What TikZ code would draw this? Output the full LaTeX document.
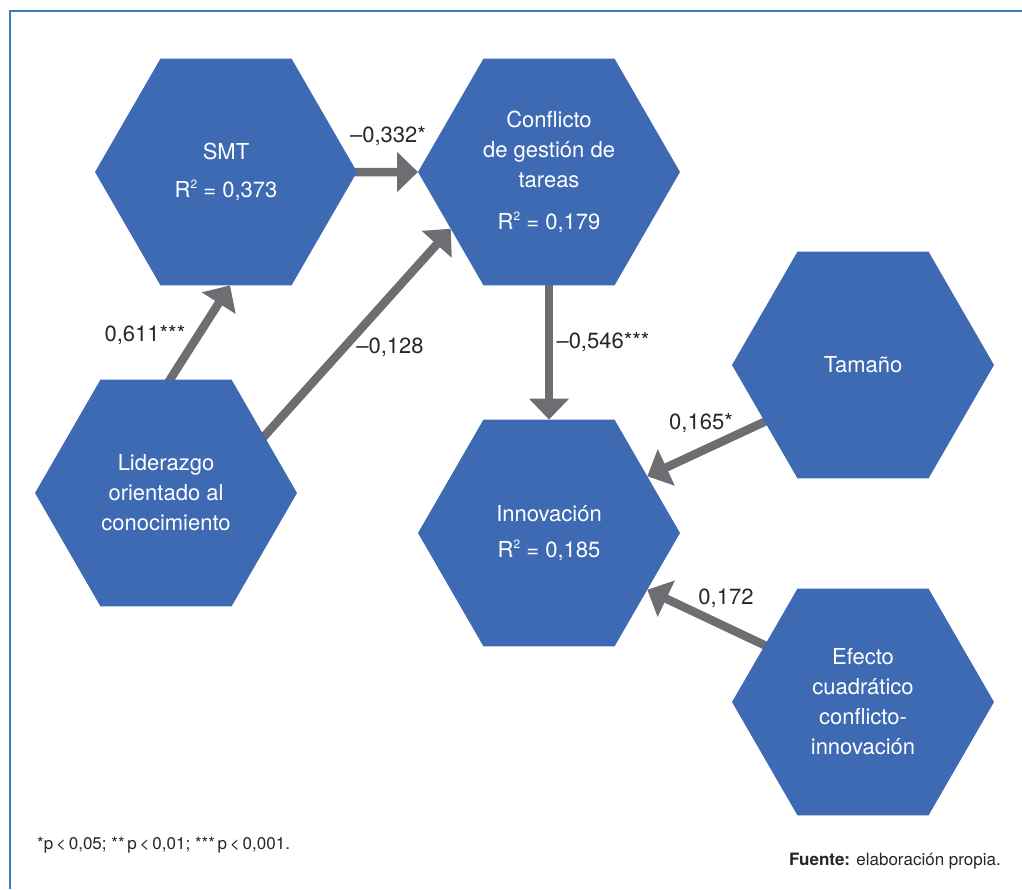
\documentclass[tikz,border=0pt]{standalone}
\usepackage{fontspec}
\setmainfont{TeX Gyre Heros}
\usepackage{xcolor}
\usepackage{tikz}
\usetikzlibrary{shapes.geometric,arrows.meta,backgrounds}

\definecolor{hexblue}{RGB}{61,106,178}
\definecolor{arrowgrey}{RGB}{109,110,113}
\definecolor{frameblue}{RGB}{58,124,196}
\definecolor{labelgrey}{RGB}{40,38,40}
\newcommand{\rsq}{R\raisebox{0.75ex}{\fontsize{12}{12}\selectfont 2}}

\begin{document}
\begin{tikzpicture}[x=1pt,y=-1pt,
					hexa/.style={regular polygon,regular polygon sides=6,minimum size=262pt,inner sep=0pt,outer sep=0pt,fill=hexblue,text=white,align=center,font=\fontsize{22}{30}\selectfont},
					link/.style={draw=arrowgrey,line width=8.5pt,shorten <=-6pt,-{Triangle[length=21pt,width=39pt]}},
					coef/.style={text=labelgrey,inner sep=0pt,font=\fontsize{22}{26}\selectfont},
					note/.style={text=labelgrey,inner sep=0pt,font=\fontsize{17}{20}\selectfont}]
					\useasboundingbox (0,0) rectangle (1022,889);
					\draw [frameblue,line width=2pt] (10,889) -- (10,11) -- (1022,11);
					% hexagons
					\node [hexa] (SMT) at (226,172) {SMT\\[8pt]\rsq{} = 0,373};
					\node [hexa] (Conf) at (549,172) {Conflicto\\de gestión de\\tareas\\[12pt]\rsq{} = 0,179};
					\node [hexa] (Lid) at (166,493) {Liderazgo\\orientado al\\conocimiento};
					\node [hexa] (Inn) at (549,533) {Innovación\\[6pt]\rsq{} = 0,185};
					\node [hexa] (Tam) at (863,365) {Tamaño};
					\node [hexa] (Eff) at (863,702) {Efecto\\cuadrático\\conflicto-\\innovación};
					% paths
					\begin{scope}[on background layer]
					\draw [link] (SMT.east) -- (Conf.west);
					\draw [link] ([xshift=4pt]Lid.north) -- ([xshift=4pt]SMT.south);
					\draw [link] (Lid.30) -- (Conf.210);
					\draw [link] (Conf.south) -- (Inn.north);
					\draw [link] (Tam.210) -- (Inn.30);
					\draw [link] (Eff.150) -- (Inn.330);
					\end{scope}
					\node [coef] (cSC) at (388,136) {–0,332*};
					\node [coef] (cLS) at (145,335) {0,611***};
					\node [coef] (cLC) at (390,347) {–0,128};
					\node [coef] (cCI) at (603,342) {–0,546***};
					\node [coef] (cTI) at (701,423) {0,165*};
					\node [coef] (cEI) at (726,598) {0,172};
					\node [note,anchor=west] (pval) at (37,845) {*p\,<\,0,05; **\,p\,<\,0,01; ***\,p\,<\,0,001.};
					\node [note,anchor=east] (src) at (1001,861) {\textbf{Fuente:} elaboración propia.};
				\end{tikzpicture}
\end{document}
